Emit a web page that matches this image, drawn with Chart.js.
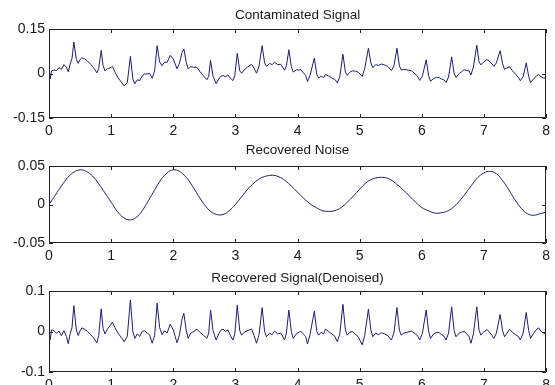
<!DOCTYPE html>
<html>
<head>
<meta charset="utf-8">
<script src="https://cdn.jsdelivr.net/npm/chart.js@4.4.1/dist/chart.umd.min.js"></script>
<style>
  html, body { margin: 0; padding: 0; background: #fff; }
  body { width: 555px; height: 385px; position: relative; overflow: hidden; }
  canvas { position: absolute; left: 0; }
</style>
</head>
<body>
<canvas id="contaminatedChart" width="555" height="140" style="top:0"></canvas>
<canvas id="noiseChart" width="555" height="125" style="top:140px"></canvas>
<canvas id="denoisedChart" width="555" height="120" style="top:265px"></canvas>
<script>
// time axis (s) shared by the two ECG traces
const timeSignal = [
  0.00, 0.02, 0.04, 0.08, 0.12, 0.16, 0.20, 0.24, 0.28, 0.31, 0.34, 0.37,
  0.40, 0.44, 0.47, 0.50, 0.53, 0.57, 0.62, 0.67, 0.72, 0.77, 0.80,
  0.84, 0.87, 0.90, 0.94, 0.98, 1.02, 1.06, 1.11, 1.16, 1.21, 1.26,
  1.31, 1.35, 1.38, 1.42, 1.46, 1.50, 1.54, 1.58, 1.62, 1.66, 1.70,
  1.74, 1.78, 1.82, 1.86, 1.90, 1.95, 2.00, 2.03, 2.06, 2.10, 2.14,
  2.17, 2.21, 2.24, 2.28, 2.33, 2.38, 2.43, 2.49, 2.54, 2.57,
  2.60, 2.64, 2.69, 2.73, 2.77, 2.80, 2.84, 2.88, 2.92, 2.96, 2.99,
  3.03, 3.07, 3.10, 3.14, 3.19, 3.26, 3.30, 3.34, 3.38,
  3.43, 3.47, 3.50, 3.55, 3.59, 3.63, 3.68, 3.73, 3.79, 3.82,
  3.86, 3.90, 3.93, 3.98, 4.02, 4.05, 4.09, 4.13, 4.16, 4.20,
  4.27, 4.31, 4.34, 4.38, 4.42, 4.45, 4.50, 4.55, 4.60, 4.64, 4.68,
  4.73, 4.77, 4.80, 4.84, 4.88, 4.93, 4.98, 5.04, 5.08,
  5.14, 5.18, 5.21, 5.26, 5.30, 5.35, 5.40, 5.45, 5.51, 5.55,
  5.60, 5.64, 5.67, 5.71, 5.76, 5.83, 5.88, 5.93, 5.965, 6.01,
  6.07, 6.11, 6.14, 6.19, 6.24, 6.28, 6.32, 6.36, 6.39, 6.43,
  6.48, 6.52, 6.55, 6.60, 6.64, 6.68, 6.72, 6.76, 6.79, 6.83,
  6.885, 6.92, 6.95, 6.99, 7.05, 7.09, 7.13, 7.16, 7.20,
  7.26, 7.30, 7.33, 7.37, 7.41, 7.46, 7.51, 7.55, 7.585, 7.63,
  7.68, 7.72, 7.75, 7.80, 7.84, 7.88, 7.92, 7.96, 8.00
];

const contaminated = [
  0.000, -0.018, 0.009, 0.012, 0.010, 0.020, 0.014, 0.030, 0.021, 0.006, 0.032, 0.050,
  0.106, 0.047, 0.034, 0.047, 0.053, 0.050, 0.042, 0.031, 0.019, 0.002, 0.017,
  0.078, 0.027, 0.009, 0.016, 0.019, 0.024, 0.006, -0.014, -0.028, -0.042, -0.031,
  0.058, -0.019, -0.035, -0.021, -0.024, -0.008, -0.001, -0.002, 0.000, -0.016, 0.009,
  0.094, 0.039, 0.026, 0.039, 0.037, 0.061, 0.049, 0.032, 0.016, 0.035, 0.070,
  0.083, 0.037, 0.015, 0.023, 0.021, 0.021, 0.006, -0.009, -0.021, -0.010,
  0.044, -0.009, -0.034, -0.019, -0.009, -0.007, -0.011, -0.005, -0.016, -0.024, -0.007,
  0.068, 0.009, 0.001, 0.012, 0.021, 0.031, 0.018, 0.001, 0.025,
  0.094, 0.036, 0.024, 0.034, 0.030, 0.038, 0.030, 0.031, 0.011, 0.026,
  0.080, 0.024, 0.005, 0.012, 0.012, 0.013, 0.003, -0.006, -0.027, -0.007,
  0.052, -0.004, -0.015, -0.009, -0.014, -0.003, -0.009, -0.015, -0.020, -0.031, -0.011,
  0.065, 0.005, -0.006, 0.004, 0.009, 0.008, 0.004, -0.010, 0.016,
  0.085, 0.036, 0.020, 0.030, 0.027, 0.032, 0.029, 0.024, 0.010, 0.025,
  0.085, 0.025, 0.012, 0.014, 0.012, 0.010, 0.001, -0.009, -0.023, -0.008,
  0.046, -0.008, -0.026, -0.017, -0.013, -0.014, -0.019, -0.022, -0.030, -0.012,
  0.056, 0.000, -0.013, 0.000, 0.006, 0.013, 0.010, 0.009, -0.005, 0.022,
  0.095, 0.040, 0.029, 0.038, 0.047, 0.041, 0.032, 0.024, 0.036,
  0.077, 0.033, 0.014, 0.019, 0.023, 0.009, -0.003, -0.012, -0.024, -0.011,
  0.036, -0.010, -0.030, -0.018, -0.009, -0.003, -0.012, -0.015, -0.016
];

const denoised = [
  0.000, -0.020, 0.004, 0.002, -0.004, 0.001, -0.010, 0.002, -0.012, -0.030, -0.006, 0.010,
  0.064, 0.004, -0.010, 0.002, 0.009, 0.006, 0.000, -0.008, -0.016, -0.028, -0.010,
  0.056, 0.008, -0.006, 0.006, 0.014, 0.023, 0.010, -0.004, -0.014, -0.025, -0.012,
  0.078, 0.000, -0.017, -0.006, -0.012, 0.000, 0.002, -0.004, -0.008, -0.029, -0.010,
  0.070, 0.010, -0.008, 0.002, -0.004, 0.018, 0.004, -0.012, -0.028, -0.008, 0.030,
  0.045, 0.002, -0.017, -0.004, 0.000, 0.006, -0.002, -0.010, -0.017, -0.004,
  0.053, 0.002, -0.021, -0.006, 0.004, 0.006, 0.000, 0.004, -0.010, -0.021, -0.006,
  0.065, 0.002, -0.009, -0.002, 0.002, 0.006, -0.010, -0.029, -0.008,
  0.059, 0.000, -0.013, -0.004, -0.008, 0.001, -0.006, -0.004, -0.021, -0.004,
  0.053, 0.000, -0.017, -0.006, -0.002, 0.001, -0.006, -0.012, -0.031, -0.008,
  0.050, 0.000, -0.009, -0.002, -0.006, 0.006, 0.000, -0.006, -0.012, -0.025, -0.006,
  0.067, 0.004, -0.009, -0.002, 0.000, -0.006, -0.014, -0.033, -0.010,
  0.055, 0.004, -0.013, -0.004, -0.008, -0.003, -0.006, -0.010, -0.021, -0.004,
  0.059, 0.002, -0.009, -0.004, -0.002, 0.001, -0.004, -0.010, -0.021, -0.004,
  0.053, 0.000, -0.017, -0.006, -0.002, -0.003, -0.008, -0.012, -0.021, -0.004,
  0.061, 0.002, -0.013, -0.004, -0.002, 0.001, -0.006, -0.012, -0.029, -0.006,
  0.061, 0.004, -0.009, -0.002, 0.005, -0.002, -0.010, -0.017, -0.004,
  0.042, 0.002, -0.013, -0.004, 0.005, -0.002, -0.008, -0.012, -0.021, -0.004,
  0.047, 0.002, -0.017, -0.004, 0.004, 0.009, 0.000, -0.004, -0.006
];

// recovered noise, sampled every 0.1 s
const timeNoise = [
  0.0, 0.1, 0.2, 0.3, 0.4, 0.5, 0.6, 0.7, 0.8, 0.9,
  1.0, 1.1, 1.2, 1.3, 1.4, 1.5, 1.6, 1.7, 1.8, 1.9,
  2.0, 2.1, 2.2, 2.3, 2.4, 2.5, 2.6, 2.7, 2.8, 2.9,
  3.0, 3.1, 3.2, 3.3, 3.4, 3.5, 3.6, 3.7, 3.8, 3.9,
  4.0, 4.1, 4.2, 4.3, 4.4, 4.5, 4.6, 4.7, 4.8, 4.9,
  5.0, 5.1, 5.2, 5.3, 5.4, 5.5, 5.6, 5.7, 5.8, 5.9,
  6.0, 6.1, 6.2, 6.3, 6.4, 6.5, 6.6, 6.7, 6.8, 6.9,
  7.0, 7.1, 7.2, 7.3, 7.4, 7.5, 7.6, 7.7, 7.8, 7.9, 8.0
];

const recoveredNoise = [
  0.000, 0.012, 0.024, 0.035, 0.042, 0.045, 0.043, 0.037, 0.027, 0.015,
  0.003, -0.009, -0.017, -0.020, -0.017, -0.008, 0.005, 0.019, 0.032, 0.041,
  0.045, 0.043, 0.036, 0.025, 0.012, 0.000, -0.009, -0.013, -0.013, -0.008,
  0.000, 0.010, 0.020, 0.028, 0.034, 0.037, 0.038, 0.036, 0.031, 0.024,
  0.016, 0.008, 0.001, -0.004, -0.008, -0.009, -0.008, -0.004, 0.003, 0.011,
  0.020, 0.028, 0.033, 0.035, 0.035, 0.032, 0.026, 0.019, 0.011, 0.003,
  -0.004, -0.008, -0.011, -0.011, -0.009, -0.004, 0.004, 0.014, 0.025, 0.035,
  0.041, 0.043, 0.040, 0.031, 0.019, 0.006, -0.005, -0.012, -0.014, -0.012, -0.010
];

const xTicks = [0, 1, 2, 3, 4, 5, 6, 7, 8];
const yTicksContaminated = [-0.15, 0, 0.15];
const yTicksNoise = [-0.05, 0, 0.05];
const yTicksDenoised = [-0.1, 0, 0.1];

const FONT = '"Liberation Sans", Arial, Helvetica, sans-serif';
const LINE = "#1c1c7a";
const INK = "#1a1a1a";

// MATLAB-style closed box with inward tick marks
const matlabAxes = {
  id: "matlabAxes",
  afterDatasetsDraw(chart) {
    const { ctx, chartArea: a, scales } = chart;
    ctx.save();
    ctx.strokeStyle = "#222";
    ctx.lineWidth = 1;
    ctx.beginPath();
    ctx.rect(Math.round(a.left) + 0.5, Math.round(a.top) + 0.5,
      Math.round(a.right - a.left) - 1, Math.round(a.bottom - a.top) - 1);
    scales.x.ticks.forEach((t) => {
      const px = Math.round(scales.x.getPixelForValue(t.value)) + 0.5;
      ctx.moveTo(px, a.top); ctx.lineTo(px, a.top + 4);
      ctx.moveTo(px, a.bottom); ctx.lineTo(px, a.bottom - 4);
    });
    scales.y.ticks.forEach((t) => {
      const py = Math.round(scales.y.getPixelForValue(t.value)) + 0.5;
      ctx.moveTo(a.left, py); ctx.lineTo(a.left + 4, py);
      ctx.moveTo(a.right, py); ctx.lineTo(a.right - 4, py);
    });
    ctx.stroke();
    ctx.restore();
  }
};

function toPoints(xs, ys) {
  return xs.map((x, i) => ({ x, y: ys[i] }));
}

function createPanel(id, opts) {
  const ctx = document.getElementById(id).getContext("2d");
  return new Chart(ctx, {
    type: "line",
    data: {
      datasets: [{
        data: toPoints(opts.xs, opts.ys),
        borderColor: LINE,
        borderWidth: 1,
        pointRadius: 0,
        tension: opts.tension
      }]
    },
    options: {
      responsive: false,
      animation: false,
      events: [],
      layout: { padding: { left: 0, right: 4, top: 0, bottom: 0 } },
      plugins: {
        legend: { display: false },
        tooltip: { enabled: false },
        title: {
          display: true,
          text: opts.title,
          fullSize: false,
          color: INK,
          font: { family: FONT, size: 13.5, weight: "normal" },
          padding: opts.titlePad
        }
      },
      scales: {
        x: {
          type: "linear",
          min: 0,
          max: 8,
          grid: { display: false, drawTicks: false },
          border: { display: false },
          afterBuildTicks: (axis) => { axis.ticks = xTicks.map((v) => ({ value: v })); },
          afterFit: (axis) => { axis.height = opts.xAxisHeight; },
          ticks: {
            color: INK,
            padding: 5,
            maxRotation: 0,
            font: { family: FONT, size: 14 },
            callback: (v) => String(v)
          }
        },
        y: {
          min: opts.yTicks[0],
          max: opts.yTicks[opts.yTicks.length - 1],
          grid: { display: false, drawTicks: false },
          border: { display: false },
          afterBuildTicks: (axis) => { axis.ticks = opts.yTicks.map((v) => ({ value: v })); },
          afterFit: (axis) => { axis.width = 49; },
          ticks: {
            color: INK,
            padding: 4,
            font: { family: FONT, size: 14 },
            callback: (v) => String(v)
          }
        }
      }
    },
    plugins: [matlabAxes]
  });
}

createPanel("contaminatedChart", {
  title: "Contaminated Signal",
  titlePad: { top: 6.9, bottom: 5.9 },
  xAxisHeight: 22,
  xs: timeSignal,
  ys: contaminated,
  yTicks: yTicksContaminated,
  tension: 0
});

createPanel("noiseChart", {
  title: "Recovered Noise",
  titlePad: { top: 2.4, bottom: 7.4 },
  xAxisHeight: 22,
  xs: timeNoise,
  ys: recoveredNoise,
  yTicks: yTicksNoise,
  tension: 0.4
});

createPanel("denoisedChart", {
  title: "Recovered Signal(Denoised)",
  titlePad: { top: 5.4, bottom: 4.4 },
  xAxisHeight: 13,
  xs: timeSignal,
  ys: denoised,
  yTicks: yTicksDenoised,
  tension: 0
});
</script>
</body>
</html>
